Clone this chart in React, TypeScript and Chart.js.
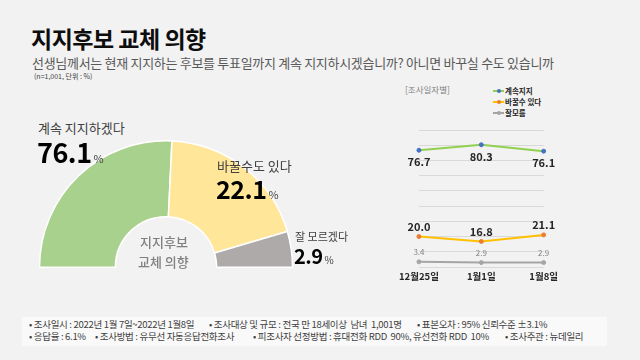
import React, { useEffect, useRef } from "react";
import { Chart, registerables } from "chart.js";

Chart.register(...registerables);

// ---- data ----
const gaugeLabels = ["계속 지지하겠다", "바꿀수도 있다", "잘 모르겠다"];
const gaugeValues = [76.1, 22.1, 2.9];
// share of the half ring each segment occupies, as drawn in the reference
const gaugeArcShares = [51.5, 39.4, 9.1];
const gaugeColors = ["#a9d18e", "#ffe699", "#aeaaaa"];

const dates = ["12월25일", "1월1일", "1월8일"];
const seriesNames = ["계속지지", "바꿀수 있다", "잘모름"];
const keepValues = [76.7, 80.3, 76.1];
const changeValues = [20.0, 16.8, 21.1];
const unsureValues = [3.4, 2.9, 2.9];
const lineColors = ["#92d050", "#ffc000", "#a5a5a5"];
const pointColors = ["#4472c4", "#ed7d31", "#a5a5a5"];
const yMin = 0;
const yMax = 90;
const yStep = 10;

const footerLine1 = [
  "• 조사일시 : 2022년 1월 7일~2022년 1월8일",
  "• 조사대상 및 규모 : 전국 만 18세이상  남녀  1,001명",
  "• 표본오차 : 95% 신뢰수준 ±3.1%",
];
const footerLine2 = [
  "• 응답율 : 6.1%",
  "• 조사방법 : 유무선 자동응답전화조사",
  "• 피조사자 선정방법 : 휴대전화 RDD  90%, 유선전화 RDD  10%",
  "• 조사주관 : 뉴데일리",
];
const footerX1 = [29, 209, 417];
const footerX2 = [29, 95, 253, 505];

const FONT = '"Noto Sans CJK KR", "Noto Sans", sans-serif';

const labelStyles = [
  { font: `bold 11px ${FONT}`, color: "#262626", dy: 12 },
  { font: `bold 11px ${FONT}`, color: "#262626", dy: -10 },
  { font: `8px ${FONT}`, color: "#808080", dy: -10 },
];

const valueLabelPlugin = {
  id: "valueLabels",
  afterDatasetsDraw(chart: any) {
    const ctx = chart.ctx;
    chart.data.datasets.forEach((ds: any, i: number) => {
      const meta = chart.getDatasetMeta(i);
      const st = labelStyles[i];
      meta.data.forEach((pt: any, j: number) => {
        ctx.save();
        ctx.font = st.font;
        ctx.fillStyle = st.color;
        ctx.textAlign = "center";
        ctx.textBaseline = "middle";
        ctx.fillText(Number(ds.data[j]).toFixed(1), pt.x, pt.y + st.dy);
        ctx.restore();
      });
    });
  },
};

function Gauge() {
  const ref = useRef<HTMLCanvasElement>(null);
  useEffect(() => {
    const chart = new Chart(ref.current!, {
      type: "doughnut",
      data: {
        labels: gaugeLabels,
        datasets: [
          {
            data: gaugeArcShares,
            backgroundColor: gaugeColors,
            borderColor: "#ffffff",
            borderWidth: 1.5,
          },
        ],
      },
      options: {
        animation: false,
        responsive: false,
        events: [],
        rotation: -90,
        circumference: 180,
        cutout: "40%",
        layout: { padding: 0 },
        plugins: { legend: { display: false }, tooltip: { enabled: false } },
      },
    });
    return () => chart.destroy();
  }, []);
  return (
    <canvas
      ref={ref}
      width={256}
      height={128}
      style={{ position: "absolute", left: 38, top: 140, width: 256, height: 128 }}
    />
  );
}

function Trend() {
  const ref = useRef<HTMLCanvasElement>(null);
  useEffect(() => {
    const series = [keepValues, changeValues, unsureValues];
    const chart = new Chart(ref.current!, {
      type: "line",
      data: {
        labels: dates,
        datasets: series.map((d, i) => ({
          label: seriesNames[i],
          data: d,
          borderColor: lineColors[i],
          backgroundColor: pointColors[i],
          pointBackgroundColor: pointColors[i],
          pointBorderColor: pointColors[i],
          pointRadius: 2,
          pointBorderWidth: 1,
          borderWidth: 2,
          tension: 0,
        })),
      },
      options: {
        animation: false,
        responsive: false,
        events: [],
        layout: { padding: { left: 8, right: 8, top: 10, bottom: 8 } },
        plugins: { legend: { display: false }, tooltip: { enabled: false } },
        scales: {
          x: {
            grid: { display: false, drawTicks: false },
            border: { display: false },
            ticks: {
              padding: 4,
              color: "#262626",
              font: { family: FONT, size: 9.5, weight: "bold" },
              maxRotation: 0,
            },
            afterFit: (s: any) => {
              s.height = 20;
            },
          },
          y: {
            min: yMin,
            max: yMax,
            ticks: { stepSize: yStep, display: false },
            grid: { color: "#d9d9d9", lineWidth: 1, drawTicks: false },
            border: { display: false },
            afterFit: (s: any) => {
              s.width = 0;
            },
          },
        },
      },
      plugins: [valueLabelPlugin],
    });
    return () => chart.destroy();
  }, []);
  return (
    <canvas
      ref={ref}
      width={167}
      height={175}
      style={{ position: "absolute", left: 395, top: 120, width: 167, height: 175 }}
    />
  );
}

const abs = (s: React.CSSProperties): React.CSSProperties => ({
  position: "absolute",
  whiteSpace: "pre",
  fontFamily: FONT,
  lineHeight: 1,
  ...s,
});

function BigValue({ x, y, label, value, labelSize, numSize, pctSize }: any) {
  return (
    <>
      <div style={abs({ left: x, top: y, fontSize: labelSize, color: "#404040" })}>{label}</div>
      <div
        style={abs({
          left: x - 1,
          top: y + labelSize + 4,
          fontSize: numSize,
          fontWeight: 700,
          color: "#000",
          letterSpacing: -0.5,
        })}
      >
        {value.toFixed(1)}
        <span style={{ fontSize: pctSize, fontWeight: 400, color: "#404040", marginLeft: 2 }}>%</span>
      </div>
    </>
  );
}

export default function App() {
  return (
    <div
      style={{
        position: "fixed",
        left: 0,
        top: 0,
        width: 640,
        height: 360,
        background: "#f2f2f2",
        overflow: "hidden",
        fontFamily: FONT,
      }}
    >
      <div style={abs({ left: 31, top: 27, fontSize: 23, fontWeight: 700, color: "#0d0d0d", letterSpacing: -0.5 })}>
        지지후보 교체 의향
      </div>
      <div style={abs({ left: 32, top: 56, fontSize: 13, color: "#595959", letterSpacing: -0.3 })}>
        선생님께서는 현재 지지하는 후보를 투표일까지 계속 지지하시겠습니까? 아니면 바꾸실 수도 있습니까
      </div>
      <div style={abs({ left: 34, top: 73, fontSize: 7, color: "#404040" })}>(n=1,001, 단위 : %)</div>

      <Gauge />
      <div style={abs({ left: 140, top: 235, fontSize: 13, color: "#808080", fontWeight: 500 })}>지지후보</div>
      <div style={abs({ left: 138, top: 255, fontSize: 13, color: "#808080", fontWeight: 500 })}>교체 의향</div>

      <BigValue x={38} y={121} label={gaugeLabels[0]} value={gaugeValues[0]} labelSize={13} numSize={27} pctSize={11} />
      <BigValue x={217} y={159} label={gaugeLabels[1]} value={gaugeValues[1]} labelSize={13} numSize={25} pctSize={11} />
      <BigValue x={295} y={231} label={gaugeLabels[2]} value={gaugeValues[2]} labelSize={11} numSize={20} pctSize={10} />

      <div style={abs({ left: 405, top: 85, fontSize: 8.5, color: "#808080" })}>[조사일자별]</div>
      {seriesNames.map((n, i) => (
        <div key={n} style={abs({ left: 493, top: 86 + i * 11, height: 9, display: "flex", alignItems: "center" })}>
          <div style={{ position: "relative", width: 11, height: 9 }}>
            <div style={{ position: "absolute", left: 0, top: 3.5, width: 11, height: 2, background: lineColors[i] }} />
            <div
              style={{
                position: "absolute",
                left: 3.5,
                top: 2.5,
                width: 4,
                height: 4,
                borderRadius: 2,
                background: pointColors[i],
              }}
            />
          </div>
          <span style={{ fontSize: 7.5, fontWeight: 700, color: "#262626", marginLeft: 1 }}>{n}</span>
        </div>
      ))}
      <Trend />

      <div style={{ position: "absolute", left: 22, top: 317, width: 585, height: 29, background: "#f9f9f9" }} />
      {footerLine1.map((t, i) => (
        <div key={"a" + i} style={abs({ left: footerX1[i], top: 320, fontSize: 9.5, color: "#404040", letterSpacing: -0.3 })}>
          {t}
        </div>
      ))}
      {footerLine2.map((t, i) => (
        <div key={"b" + i} style={abs({ left: footerX2[i], top: 332, fontSize: 9.5, color: "#404040", letterSpacing: -0.3 })}>
          {t}
        </div>
      ))}
    </div>
  );
}
